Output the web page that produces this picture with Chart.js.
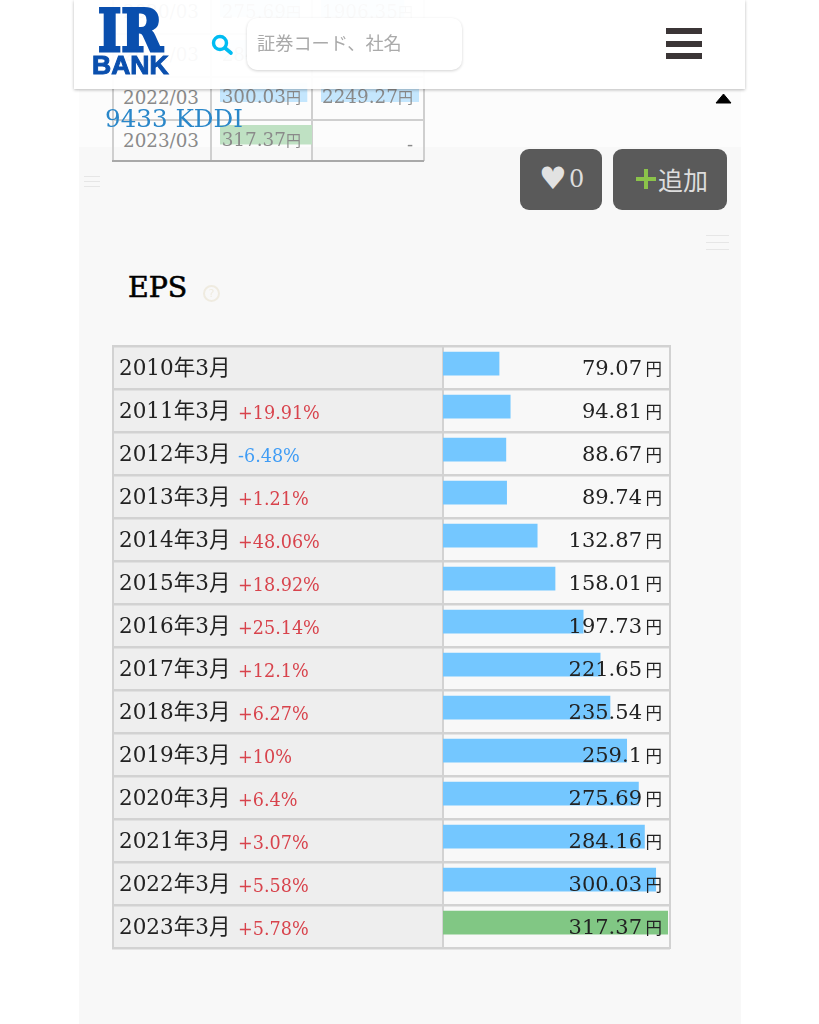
<!DOCTYPE html>
<html lang="ja">
<head>
<meta charset="utf-8">
<title>9433 KDDI EPS</title>
<script src="https://cdn.jsdelivr.net/npm/chart.js@4"></script>
<style>
  html, body { margin: 0; padding: 0; width: 819px; height: 1024px; overflow: hidden; background: #fff; }
  body { font-family: "DejaVu Serif", "Noto Sans CJK JP", serif; position: relative; }
  .abs { position: absolute; white-space: nowrap; }
  canvas { position: absolute; }
  .panel { left: 79px; top: 90px; width: 662px; height: 934px; background: #f8f8f8; }
  .band { left: 79px; top: 90px; width: 662px; height: 57px; background: #fcfcfc; }
  .gline { background: #cfcfcf; }
  .gdate { left: 123px; font-size: 18.3px; line-height: 20px; color: #8a8a8a; }
  .header { left: 74px; top: 0; width: 671px; height: 89px; background: rgba(255,255,255,.95); box-shadow: 0 1px 3px rgba(0,0,0,.28); }
  .search { left: 247px; top: 18px; width: 215px; height: 52px; background: #fff; border-radius: 10px; box-shadow: 0 1px 3px rgba(0,0,0,.18); }
  .btn { background: #5a5a5a; border-radius: 9px; top: 149px; height: 61px; }
  .bar3 { background: #3b3536; left: 666px; width: 36px; height: 6px; }
  .faint { background: #e6e6e6; height: 1px; }
</style>
</head>
<body>
<div class="abs panel"></div>
<div class="abs band"></div>

<!-- table scrolled under the header -->
<div id="ghostTable"></div>
<canvas id="ghostEps" width="92" height="170" style="left:220px;top:-14px"></canvas>
<canvas id="ghostBps" width="98" height="170" style="left:321px;top:-14px"></canvas>

<div class="abs" style="left:105px;top:102px;font-size:24.6px;line-height:34px;color:#2a87c9">9433 KDDI</div>

<div class="abs header"></div>
<div class="abs" style="left:98px;top:1px;font-size:58px;line-height:60px;font-weight:bold;color:#0a4fae;-webkit-text-stroke:3px #0a4fae;transform-origin:left top;transform:scaleX(.86)">IR</div>
<div class="abs" style="left:92px;top:50px;font-family:'Liberation Sans';font-size:26.5px;line-height:30px;font-weight:bold;color:#0a4fae;-webkit-text-stroke:1px #0a4fae">BANK</div>
<svg class="abs" style="left:210px;top:33px" width="24" height="24">
  <circle cx="10" cy="10" r="6.5" fill="none" stroke="#00bcf2" stroke-width="3.4"/>
  <line x1="15" y1="15" x2="21" y2="20" stroke="#00bcf2" stroke-width="3.6" stroke-linecap="round"/>
</svg>
<div class="abs search"></div>
<div class="abs" style="left:257px;top:30px;font-family:'Noto Sans CJK JP';font-size:18.2px;line-height:24px;color:#aaa">証券コード、社名</div>
<div class="abs bar3" style="top:28px"></div>
<div class="abs bar3" style="top:41px"></div>
<div class="abs bar3" style="top:53px"></div>
<svg class="abs" style="left:715px;top:92px" width="18" height="12"><path d="M1 11 L8.5 2 L16 11 Z" fill="#000" stroke="#000" stroke-linejoin="round"/></svg>

<div class="abs faint" style="left:84px;top:176px;width:16px"></div>
<div class="abs faint" style="left:84px;top:181px;width:16px"></div>
<div class="abs faint" style="left:84px;top:186px;width:16px"></div>
<div class="abs faint" style="left:706px;top:235px;width:23px"></div>
<div class="abs faint" style="left:706px;top:242px;width:23px"></div>
<div class="abs faint" style="left:706px;top:249px;width:23px"></div>

<div class="abs btn" style="left:520px;width:82px"></div>
<div class="abs" style="left:539px;top:160px;font-family:'DejaVu Sans';font-size:31px;line-height:36px;color:#e2e2e2">♥</div>
<div class="abs" style="left:569px;top:163px;font-size:24px;line-height:32px;color:#ddd">0</div>
<div class="abs btn" style="left:613px;width:114px"></div>
<div class="abs" style="left:636px;top:177px;width:20px;height:4px;background:#8bc34a"></div>
<div class="abs" style="left:644px;top:169px;width:4px;height:20px;background:#8bc34a"></div>
<div class="abs" style="left:658px;top:161px;font-family:'Noto Sans CJK JP';font-size:25px;line-height:36px;color:#ddd">追加</div>

<div class="abs" style="left:128px;top:269px;font-size:28.4px;line-height:38px;color:#000;-webkit-text-stroke:.6px #000">EPS</div>
<div class="abs" style="left:203px;top:285px;width:13px;height:13px;border:2px solid #efebe0;border-radius:50%;font-family:'DejaVu Sans';font-size:11px;line-height:13px;text-align:center;color:#efebe0">?</div>

<canvas id="epsChart" width="819" height="1024" style="left:0;top:0"></canvas>

<script>
// main table
const categories = ["2010年3月", "2011年3月", "2012年3月", "2013年3月", "2014年3月", "2015年3月", "2016年3月",
  "2017年3月", "2018年3月", "2019年3月", "2020年3月", "2021年3月", "2022年3月", "2023年3月"];
const epsValues = [79.07, 94.81, 88.67, 89.74, 132.87, 158.01, 197.73, 221.65, 235.54, 259.1, 275.69, 284.16, 300.03, 317.37];
const growthLabels = ["", "+19.91%", "-6.48%", "+1.21%", "+48.06%", "+18.92%", "+25.14%", "+12.1%", "+6.27%", "+10%", "+6.4%", "+3.07%", "+5.58%", "+5.78%"];

// table behind the header
const ghostDates = ["2020/03", "2021/03", "2022/03", "2023/03"];
const ghostEpsValues = [275.69, 284.16, 300.03, 317.37];
const ghostBpsValues = [1906.35, 2080, 2249.27, null];

const SERIF = '"DejaVu Serif", "Noto Sans CJK JP", serif';
const BLUE = "#74c7ff";
const GREEN = "#81c784";

function drawValueText(ctx, text, right, y, size, unitSize, gap, color) {
  ctx.fillStyle = color;
  ctx.textAlign = "right";
  ctx.textBaseline = "middle";
  ctx.font = unitSize + 'px "Noto Sans CJK JP"';
  ctx.fillText("円", right, y - 0.5);
  let unitWidth = ctx.measureText("円").width;
  ctx.font = size + "px " + SERIF;
  ctx.fillText(text, right - unitWidth - gap, y);
}

// Table grid is painted under the ticks and the bars
const tableGrid = {
  id: "tableGrid",
  beforeDraw(chart) {
    const { ctx } = chart;
    const left = 112, right = 670, split = 442, top = 345, pitch = 43;
    const bottom = top + pitch * categories.length;
    ctx.save();
    ctx.fillStyle = "#eeeeee";
    ctx.fillRect(left, top, split - left, bottom - top);
    ctx.fillStyle = "#d2d2d2";
    for (let i = 0; i <= categories.length; i++) {
      ctx.fillRect(left, top + pitch * i, right - left, 2.5);
    }
    ctx.fillRect(left, top, 2, bottom - top + 2);
    ctx.fillRect(split, top, 2, bottom - top);
    ctx.fillRect(right - 1, top, 2, bottom - top + 2);
    ctx.restore();
  },
  afterDatasetsDraw(chart) {
    const { ctx, scales } = chart;
    ctx.save();
    categories.forEach(function (label, i) {
      const y = scales.y.getPixelForValue(i) + 6;
      ctx.textAlign = "left";
      ctx.textBaseline = "middle";
      ctx.font = "17.6px " + SERIF;
      ctx.fillStyle = growthLabels[i].charAt(0) == "-" ? "#3f9cf5" : "#d8434c";
      ctx.fillText(growthLabels[i], 238, y + 2);
      drawValueText(ctx, String(epsValues[i]), 662, y, 21, 16.5, 3.5, "#222");
    });
    ctx.restore();
  },
};

new Chart(document.getElementById("epsChart"), {
  type: "bar",
  data: {
    labels: categories,
    datasets: [
      {
        data: epsValues,
        backgroundColor: epsValues.map((v, i) => (i == epsValues.length - 1 ? GREEN : BLUE)),
        barThickness: 23,
      },
    ],
  },
  options: {
    indexAxis: "y",
    responsive: false,
    animation: false,
    layout: { padding: { left: 119, right: 151, top: 342.2, bottom: 79.8 } },
    plugins: { legend: { display: false }, tooltip: { enabled: false } },
    scales: {
      x: { display: false, min: 0, max: Math.max(...epsValues) },
      y: {
        afterFit(scale) {
          scale.width = 324;
        },
        grid: { display: false },
        border: { display: false },
        ticks: {
          crossAlign: "far",
          autoSkip: false,
          labelOffset: 6,
          color: "#222",
          font: { family: SERIF, size: 21.5 },
        },
      },
    },
  },
  plugins: [tableGrid],
});

// faded columns behind the header, one small bar chart each
function ghostChart(id, values, maxValue, textRight) {
  new Chart(document.getElementById(id), {
    type: "bar",
    data: {
      labels: ghostDates,
      datasets: [
        {
          data: values,
          backgroundColor: values.map((v, i) => (id == "ghostEps" && i == 3 ? "#bfe1c3" : "#c4e6fd")),
          barThickness: 19,
        },
      ],
    },
    options: {
      indexAxis: "y",
      responsive: false,
      animation: false,
      plugins: { legend: { display: false }, tooltip: { enabled: false } },
      scales: {
        x: { display: false, min: 0, max: maxValue },
        y: { display: false },
      },
    },
    plugins: [
      {
        id: "ghostText",
        afterDatasetsDraw(chart) {
          const { ctx, scales } = chart;
          ctx.save();
          values.forEach(function (v, i) {
            const y = scales.y.getPixelForValue(i) + 6;
            if (v == null) {
              ctx.fillStyle = "#8a8a8a";
              ctx.textAlign = "right";
              ctx.font = "18px " + SERIF;
              ctx.fillText("-", textRight, y + 6);
            } else {
              drawValueText(ctx, String(v), textRight, y, 18.4, 15, 0, "#8a8a8a");
            }
          });
          ctx.restore();
        },
      },
    ],
  });
}
ghostChart("ghostEps", ghostEpsValues, Math.max(...ghostEpsValues), 81);
ghostChart("ghostBps", ghostBpsValues, 2249.27, 92);

// ghost table labels and rules
const ghostTable = document.getElementById("ghostTable");
function addLine(left, top, width, height, color) {
  const d = document.createElement("div");
  d.className = "abs gline";
  d.style.cssText = "left:" + left + "px;top:" + top + "px;width:" + width + "px;height:" + height + "px;" + (color ? "background:" + color : "");
  ghostTable.appendChild(d);
}
ghostDates.forEach(function (date, i) {
  const d = document.createElement("div");
  d.className = "abs gdate";
  d.style.top = 2 + i * 43 + "px";
  d.textContent = date;
  ghostTable.appendChild(d);
});
[112, 210, 311, 423].forEach((x) => addLine(x, 0, 2, 161));
[33, 76, 119].forEach((y) => addLine(112, y, 312, 2));
addLine(112, 160, 312, 2, "#a9a9a9");
</script>
</body>
</html>
